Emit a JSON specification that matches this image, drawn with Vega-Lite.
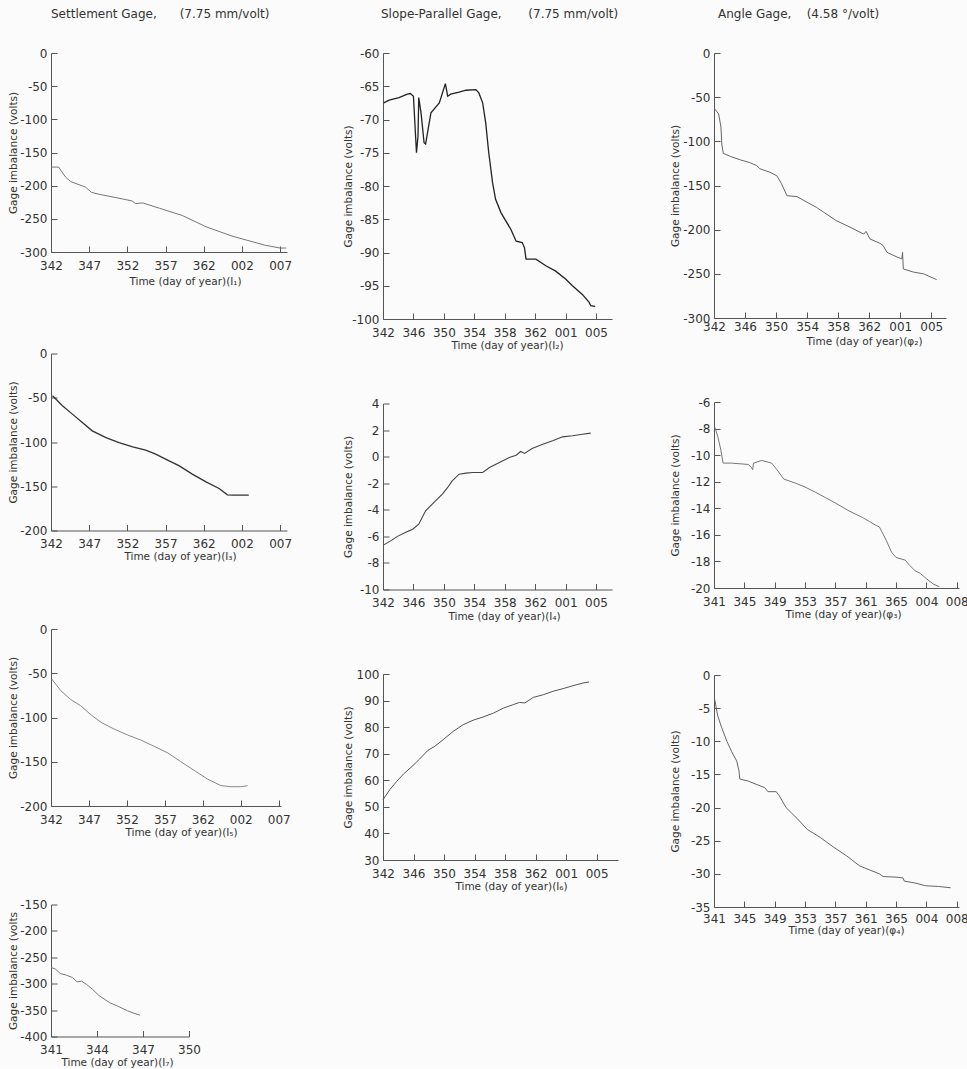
{
  "$schema": "https://vega.github.io/schema/vega-lite/v6.json",
  "background": "#fafbfa",
  "padding": {"left": 7, "top": 8, "right": 0, "bottom": 0},
  "spacing": 51,
  "columns": 3,
  "align": "none",
  "config": {
    "font": "DejaVu Sans",
    "view": {"stroke": null},
    "axis": {"grid": false, "domainColor": "#555", "tickColor": "#555", "labelColor": "#333", "titleColor": "#333", "labelFontSize": 12, "titleFontSize": 10.5, "titleFontWeight": "normal", "tickSize": -6, "labelPadding": 10, "labelFlush": false, "labelOverlap": false, "domainWidth": 1, "tickWidth": 1},
    "axisX": {"labelPadding": 14},
    "axisY": {"titlePadding": 0},
    "title": {"fontSize": 12, "fontWeight": "normal", "color": "#333", "anchor": "start"}
  },
  "datasets": {
    "I1": [{"d":342.0,"v":-172},{"d":343.0,"v":-172},{"d":343.9,"v":-187},{"d":344.6,"v":-194},{"d":346.5,"v":-202},{"d":347.3,"v":-210},{"d":348.3,"v":-213},{"d":350.5,"v":-218},{"d":352.6,"v":-223},{"d":353.1,"v":-227},{"d":354.0,"v":-226},{"d":356.2,"v":-234},{"d":359.2,"v":-245},{"d":362.3,"v":-262},{"d":365.7,"v":-276},{"d":370.1,"v":-290},{"d":372.0,"v":-294},{"d":372.8,"v":-294}],
    "I3": [{"d":342.2,"v":-47.8},{"d":343.5,"v":-59},{"d":344.8,"v":-68.5},{"d":346.1,"v":-78},{"d":347.4,"v":-87.4},{"d":349.2,"v":-95},{"d":350.9,"v":-100.6},{"d":352.7,"v":-105.5},{"d":354.4,"v":-109.2},{"d":355.7,"v":-113.7},{"d":357.0,"v":-119.4},{"d":358.8,"v":-127},{"d":360.5,"v":-136.3},{"d":362.3,"v":-145},{"d":364.0,"v":-152.5},{"d":365.1,"v":-159.7},{"d":365.8,"v":-160},{"d":367.9,"v":-160}],
    "I5": [{"d":342.1,"v":-56.5},{"d":343.3,"v":-69.7},{"d":344.6,"v":-79.8},{"d":345.9,"v":-86.6},{"d":347.3,"v":-97.2},{"d":348.6,"v":-105.5},{"d":350.3,"v":-113},{"d":352.1,"v":-119.8},{"d":353.8,"v":-125.4},{"d":355.6,"v":-132.6},{"d":357.4,"v":-140.1},{"d":359.1,"v":-149.9},{"d":360.9,"v":-160},{"d":362.6,"v":-169.5},{"d":364.4,"v":-177},{"d":365.7,"v":-178.2},{"d":367.0,"v":-178.2},{"d":367.9,"v":-177}],
    "I7": [{"d":341.0,"v":-269.3},{"d":341.3,"v":-272.5},{"d":341.6,"v":-280.7},{"d":342.0,"v":-283.8},{"d":342.4,"v":-288.3},{"d":342.7,"v":-296.5},{"d":343.0,"v":-295.2},{"d":343.3,"v":-300.9},{"d":343.7,"v":-310.4},{"d":344.1,"v":-321.7},{"d":344.8,"v":-335.6},{"d":345.4,"v":-343.2},{"d":346.0,"v":-351.4},{"d":346.4,"v":-355.8},{"d":346.8,"v":-359.6}],
    "I2": [{"d":342.1,"v":-67.5},{"d":342.8,"v":-67.1},{"d":344.1,"v":-66.7},{"d":345.2,"v":-66.2},{"d":345.6,"v":-66.1},{"d":346.0,"v":-66.5},{"d":346.4,"v":-75.0},{"d":346.6,"v":-72.5},{"d":346.7,"v":-66.7},{"d":347.0,"v":-69.0},{"d":347.4,"v":-73.5},{"d":347.6,"v":-73.7},{"d":348.3,"v":-69.0},{"d":349.4,"v":-67.5},{"d":350.2,"v":-64.6},{"d":350.5,"v":-66.5},{"d":350.9,"v":-66.2},{"d":352.0,"v":-65.9},{"d":352.9,"v":-65.6},{"d":354.2,"v":-65.5},{"d":354.6,"v":-66.0},{"d":355.1,"v":-67.5},{"d":355.5,"v":-70.5},{"d":355.9,"v":-75.0},{"d":356.4,"v":-79.5},{"d":356.8,"v":-82.0},{"d":357.5,"v":-84.0},{"d":358.8,"v":-86.5},{"d":359.5,"v":-88.3},{"d":360.3,"v":-88.5},{"d":360.6,"v":-89.3},{"d":360.8,"v":-91.0},{"d":362.1,"v":-91.0},{"d":363.4,"v":-92.0},{"d":364.7,"v":-92.8},{"d":366.0,"v":-94.0},{"d":366.9,"v":-95.0},{"d":368.2,"v":-96.3},{"d":369.1,"v":-97.5},{"d":369.3,"v":-98.0},{"d":369.9,"v":-98.1}],
    "I4": [{"d":342.1,"v":-6.64},{"d":343.0,"v":-6.34},{"d":343.9,"v":-6.0},{"d":345.0,"v":-5.7},{"d":345.9,"v":-5.46},{"d":346.7,"v":-5.08},{"d":347.6,"v":-4.08},{"d":348.7,"v":-3.45},{"d":349.8,"v":-2.82},{"d":350.5,"v":-2.32},{"d":351.1,"v":-1.82},{"d":352.0,"v":-1.32},{"d":352.9,"v":-1.24},{"d":353.8,"v":-1.19},{"d":355.1,"v":-1.19},{"d":356.0,"v":-0.82},{"d":357.3,"v":-0.44},{"d":358.6,"v":-0.06},{"d":359.5,"v":0.11},{"d":360.1,"v":0.39},{"d":360.6,"v":0.24},{"d":361.6,"v":0.61},{"d":363.0,"v":0.94},{"d":364.3,"v":1.19},{"d":365.6,"v":1.49},{"d":366.9,"v":1.57},{"d":368.2,"v":1.69},{"d":369.3,"v":1.77}],
    "I6": [{"d":342.0,"v":52.7},{"d":342.9,"v":56.5},{"d":343.8,"v":59.6},{"d":344.7,"v":62.4},{"d":345.8,"v":65.2},{"d":346.8,"v":68.0},{"d":347.9,"v":71.3},{"d":348.8,"v":72.8},{"d":349.9,"v":75.3},{"d":351.2,"v":78.4},{"d":352.5,"v":80.9},{"d":353.8,"v":82.6},{"d":355.1,"v":83.8},{"d":356.5,"v":85.3},{"d":357.8,"v":87.2},{"d":359.1,"v":88.5},{"d":359.9,"v":89.3},{"d":360.6,"v":89.1},{"d":361.7,"v":91.2},{"d":363.0,"v":92.2},{"d":364.3,"v":93.5},{"d":365.6,"v":94.5},{"d":366.9,"v":95.6},{"d":368.2,"v":96.6},{"d":369.0,"v":97.0}],
    "P2": [{"d":342.1,"v":-63.4},{"d":342.6,"v":-69},{"d":342.9,"v":-84},{"d":343.0,"v":-103},{"d":343.2,"v":-113.6},{"d":344.1,"v":-117},{"d":345.4,"v":-121},{"d":346.6,"v":-124},{"d":347.5,"v":-127.5},{"d":347.9,"v":-131},{"d":349.2,"v":-135},{"d":350.1,"v":-139},{"d":350.7,"v":-148},{"d":351.4,"v":-161.5},{"d":352.7,"v":-162.6},{"d":354.0,"v":-169},{"d":355.2,"v":-174.7},{"d":356.1,"v":-180},{"d":357.8,"v":-190},{"d":359.5,"v":-197},{"d":361.3,"v":-205},{"d":361.6,"v":-202},{"d":362.1,"v":-210.5},{"d":363.4,"v":-215.5},{"d":363.8,"v":-218},{"d":364.3,"v":-225.7},{"d":365.6,"v":-231},{"d":366.2,"v":-233},{"d":366.3,"v":-225.7},{"d":366.4,"v":-244.5},{"d":367.7,"v":-248},{"d":369.0,"v":-250},{"d":370.7,"v":-256.6}],
    "P3": [{"d":341.1,"v":-7.88},{"d":341.5,"v":-8.6},{"d":341.9,"v":-9.6},{"d":342.2,"v":-10.6},{"d":343.3,"v":-10.6},{"d":345.5,"v":-10.7},{"d":345.9,"v":-10.9},{"d":346.1,"v":-11.1},{"d":346.2,"v":-10.6},{"d":347.3,"v":-10.4},{"d":348.6,"v":-10.6},{"d":349.3,"v":-11.1},{"d":350.2,"v":-11.8},{"d":351.7,"v":-12.1},{"d":353.0,"v":-12.4},{"d":354.4,"v":-12.8},{"d":355.7,"v":-13.2},{"d":357.0,"v":-13.6},{"d":358.8,"v":-14.2},{"d":360.6,"v":-14.7},{"d":361.5,"v":-15.0},{"d":362.4,"v":-15.3},{"d":362.8,"v":-15.4},{"d":363.7,"v":-16.4},{"d":364.4,"v":-17.3},{"d":365.0,"v":-17.7},{"d":366.2,"v":-17.9},{"d":366.8,"v":-18.3},{"d":367.5,"v":-18.7},{"d":368.2,"v":-18.9},{"d":369.0,"v":-19.3},{"d":369.9,"v":-19.7},{"d":370.7,"v":-19.9}],
    "P4": [{"d":341.1,"v":-3.7},{"d":341.3,"v":-5.0},{"d":341.5,"v":-6.2},{"d":342.0,"v":-7.9},{"d":342.7,"v":-10.0},{"d":343.3,"v":-11.5},{"d":344.0,"v":-13.0},{"d":344.3,"v":-14.5},{"d":344.4,"v":-15.7},{"d":345.5,"v":-16.0},{"d":346.8,"v":-16.6},{"d":347.7,"v":-17.0},{"d":348.1,"v":-17.6},{"d":349.2,"v":-17.6},{"d":349.6,"v":-18.2},{"d":350.5,"v":-20.0},{"d":352.0,"v":-21.7},{"d":353.3,"v":-23.3},{"d":355.0,"v":-24.5},{"d":356.8,"v":-26.0},{"d":358.5,"v":-27.3},{"d":360.2,"v":-28.8},{"d":361.5,"v":-29.4},{"d":362.8,"v":-30.0},{"d":363.3,"v":-30.4},{"d":365.0,"v":-30.5},{"d":365.9,"v":-30.6},{"d":366.1,"v":-31.1},{"d":367.6,"v":-31.4},{"d":368.9,"v":-31.8},{"d":370.6,"v":-31.9},{"d":372.2,"v":-32.1}]
  },
  "concat": [
    {
      "title": {"text": "Settlement Gage,\u00a0\u00a0\u00a0\u00a0\u00a0\u00a0(7.75 mm/volt)", "dx": 43, "offset": 18},
      "spacing": 60.5,
      "vconcat": [
        {"width": 236, "height": 199, "data": {"name": "I1"},
         "layer": [
           {"mark": {"type": "line", "color": "#777", "strokeWidth": 1},
            "encoding": {
              "x": {"field": "d", "type": "quantitative", "scale": {"domain": [342, 372.9], "nice": false, "zero": false}, "axis": {"values": [342,347,352,357,362,367,372], "labelExpr": "datum.value > 365 ? '00' + (datum.value - 365) : '' + datum.value", "title": "Time (day of year)(I\u2081)", "titleX": 134, "titlePadding": 5}},
              "y": {"field": "v", "type": "quantitative", "scale": {"domain": [-300, 0], "nice": false, "zero": false}, "axis": {"values": [0,-50,-100,-150,-200,-250,-300], "labelExpr": "'' + datum.value", "title": "Gage imbalance (volts)", "minExtent": 33, "maxExtent": 33}}
            }},
           {"mark": {"type": "line", "strokeOpacity": 0},
            "encoding": {
              "x": {"field": "d", "type": "quantitative", "scale": {"domain": [342, 372.9], "nice": false, "zero": false}, "axis": {"orient": "top", "labels": false, "ticks": false, "domain": false, "title": "\u00a0", "titleFontSize": 2, "titlePadding": 12}},
              "y": {"field": "v", "type": "quantitative", "scale": {"domain": [-300, 0], "nice": false, "zero": false}, "axis": {"values": [0,-50,-100,-150,-200,-250,-300], "labelExpr": "'' + datum.value", "title": "Gage imbalance (volts)", "minExtent": 33, "maxExtent": 33}}
            }}
         ],
         "resolve": {"axis": {"x": "independent"}}},
        {"width": 236, "height": 177, "data": {"name": "I3"}, "mark": {"type": "line", "color": "#333", "strokeWidth": 1.3},
         "encoding": {
           "x": {"field": "d", "type": "quantitative", "scale": {"domain": [342, 372.9], "nice": false, "zero": false}, "axis": {"values": [342,347,352,357,362,367,372], "labelExpr": "datum.value > 365 ? '00' + (datum.value - 365) : '' + datum.value", "title": "Time (day of year)(I\u2083)", "titleX": 129, "titlePadding": 2}},
           "y": {"field": "v", "type": "quantitative", "scale": {"domain": [-200, 0], "nice": false, "zero": false}, "axis": {"values": [0,-50,-100,-150,-200], "labelExpr": "'' + datum.value", "title": "Gage imbalance (volts)", "minExtent": 33, "maxExtent": 33}}
         }},
        {"width": 230, "height": 177, "data": {"name": "I5"}, "mark": {"type": "line", "color": "#888", "strokeWidth": 1},
         "encoding": {
           "x": {"field": "d", "type": "quantitative", "scale": {"domain": [342, 372.3], "nice": false, "zero": false}, "axis": {"values": [342,347,352,357,362,367,372], "labelExpr": "datum.value > 365 ? '00' + (datum.value - 365) : '' + datum.value", "title": "Time (day of year)(I\u2085)", "titleX": 130, "titlePadding": 2}},
           "y": {"field": "v", "type": "quantitative", "scale": {"domain": [-200, 0], "nice": false, "zero": false}, "axis": {"values": [0,-50,-100,-150,-200], "labelExpr": "'' + datum.value", "title": "Gage imbalance (volts)", "minExtent": 33, "maxExtent": 33}}
         }},
        {"width": 138, "height": 132, "data": {"name": "I7"}, "mark": {"type": "line", "color": "#777", "strokeWidth": 1},
         "encoding": {
           "x": {"field": "d", "type": "quantitative", "scale": {"domain": [341, 350], "nice": false, "zero": false}, "axis": {"values": [341,344,347,350], "labelExpr": "'' + datum.value", "title": "Time (day of year)(I\u2087)", "titleX": 66, "titlePadding": 2}},
           "y": {"field": "v", "type": "quantitative", "scale": {"domain": [-400, -150], "nice": false, "zero": false}, "axis": {"values": [-150,-200,-250,-300,-350,-400], "labelExpr": "'' + datum.value", "title": "Gage imbalance (volts", "minExtent": 33, "maxExtent": 33}}
         }}
      ]
    },
    {
      "title": {"text": "Slope-Parallel Gage,\u00a0\u00a0\u00a0\u00a0\u00a0\u00a0\u00a0(7.75 mm/volt)", "dx": 38, "offset": 15},
      "spacing": 46.5,
      "vconcat": [
        {"width": 229, "height": 266, "data": {"name": "I2"},
         "layer": [
           {"mark": {"type": "line", "color": "#222", "strokeWidth": 1.3},
            "encoding": {
              "x": {"field": "d", "type": "quantitative", "scale": {"domain": [342, 372.1], "nice": false, "zero": false}, "axis": {"values": [342,346,350,354,358,362,366,370], "labelExpr": "datum.value > 365 ? '00' + (datum.value - 365) : '' + datum.value", "title": "Time (day of year)(I\u2082)", "titleX": 124, "titlePadding": 2}},
              "y": {"field": "v", "type": "quantitative", "scale": {"domain": [-100, -60], "nice": false, "zero": false}, "axis": {"values": [-60,-65,-70,-75,-80,-85,-90,-95,-100], "labelExpr": "'' + datum.value", "title": "Gage imbalance (volts)", "minExtent": 30, "maxExtent": 30}}
            }},
           {"mark": {"type": "line", "strokeOpacity": 0},
            "encoding": {
              "x": {"field": "d", "type": "quantitative", "scale": {"domain": [342, 372.1], "nice": false, "zero": false}, "axis": {"orient": "top", "labels": false, "ticks": false, "domain": false, "title": "\u00a0", "titleFontSize": 2, "titlePadding": 15}},
              "y": {"field": "v", "type": "quantitative", "scale": {"domain": [-100, -60], "nice": false, "zero": false}, "axis": {"values": [-60,-65,-70,-75,-80,-85,-90,-95,-100], "labelExpr": "'' + datum.value", "title": "Gage imbalance (volts)", "minExtent": 30, "maxExtent": 30}}
            }}
         ],
         "resolve": {"axis": {"x": "independent"}}},
        {"width": 229, "height": 186, "data": {"name": "I4"}, "mark": {"type": "line", "color": "#444", "strokeWidth": 1.1},
         "encoding": {
           "x": {"field": "d", "type": "quantitative", "scale": {"domain": [342, 372.1], "nice": false, "zero": false}, "axis": {"values": [342,346,350,354,358,362,366,370], "labelExpr": "datum.value > 365 ? '00' + (datum.value - 365) : '' + datum.value", "title": "Time (day of year)(I\u2084)", "titleX": 121, "titlePadding": 2.5}},
           "y": {"field": "v", "type": "quantitative", "scale": {"domain": [-10, 4], "nice": false, "zero": false}, "axis": {"values": [4,2,0,-2,-4,-6,-8,-10], "labelExpr": "'' + datum.value", "title": "Gage imbalance (volts)", "minExtent": 30, "maxExtent": 30}}
         }},
        {"width": 235, "height": 186, "data": {"name": "I6"}, "mark": {"type": "line", "color": "#555", "strokeWidth": 1},
         "encoding": {
           "x": {"field": "d", "type": "quantitative", "scale": {"domain": [342, 372.8], "nice": false, "zero": false}, "axis": {"values": [342,346,350,354,358,362,366,370], "labelExpr": "datum.value > 365 ? '00' + (datum.value - 365) : '' + datum.value", "title": "Time (day of year)(I\u2086)", "titleX": 128, "titlePadding": 2}},
           "y": {"field": "v", "type": "quantitative", "scale": {"domain": [30, 100], "nice": false, "zero": false}, "axis": {"values": [100,90,80,70,60,50,40,30], "labelExpr": "'' + datum.value", "title": "Gage imbalance (volts)", "minExtent": 30, "maxExtent": 30}}
         }}
      ]
    },
    {
      "title": {"text": "Angle Gage,\u00a0\u00a0\u00a0\u00a0(4.58 \u00b0/volt)", "dx": 48, "offset": 13},
      "spacing": 49,
      "vconcat": [
        {"width": 232, "height": 265, "data": {"name": "P2"},
         "layer": [
           {"mark": {"type": "line", "color": "#666", "strokeWidth": 1},
            "encoding": {
              "x": {"field": "d", "type": "quantitative", "scale": {"domain": [342, 371.9], "nice": false, "zero": false}, "axis": {"values": [342,346,350,354,358,362,366,370], "labelExpr": "datum.value > 365 ? '00' + (datum.value - 365) : '' + datum.value", "title": "Time (day of year)(\u03c6\u2082)", "titleX": 150, "labelPadding": 9, "titlePadding": 4}},
              "y": {"field": "v", "type": "quantitative", "scale": {"domain": [-300, 0], "nice": false, "zero": false}, "axis": {"values": [0,-50,-100,-150,-200,-250,-300], "labelExpr": "'' + datum.value", "title": "Gage imbalance (volts)", "minExtent": 34, "maxExtent": 34}}
            }},
           {"mark": {"type": "line", "strokeOpacity": 0},
            "encoding": {
              "x": {"field": "d", "type": "quantitative", "scale": {"domain": [342, 371.9], "nice": false, "zero": false}, "axis": {"orient": "top", "labels": false, "ticks": false, "domain": false, "title": "\u00a0", "titleFontSize": 2, "titlePadding": 17}},
              "y": {"field": "v", "type": "quantitative", "scale": {"domain": [-300, 0], "nice": false, "zero": false}, "axis": {"values": [0,-50,-100,-150,-200,-250,-300], "labelExpr": "'' + datum.value", "title": "Gage imbalance (volts)", "minExtent": 34, "maxExtent": 34}}
            }}
         ],
         "resolve": {"axis": {"x": "independent"}}},
        {"width": 245, "height": 186, "data": {"name": "P3"}, "mark": {"type": "line", "color": "#777", "strokeWidth": 1},
         "encoding": {
           "x": {"field": "d", "type": "quantitative", "scale": {"domain": [341, 373.3], "nice": false, "zero": false}, "axis": {"values": [341,345,349,353,357,361,365,369,373], "labelExpr": "datum.value > 365 ? '00' + (datum.value - 365) : '' + datum.value", "title": "Time (day of year)(\u03c6\u2083)", "titleX": 129, "titlePadding": 2}},
           "y": {"field": "v", "type": "quantitative", "scale": {"domain": [-20, -6], "nice": false, "zero": false}, "axis": {"values": [-6,-8,-10,-12,-14,-16,-18,-20], "labelExpr": "'' + datum.value", "title": "Gage imbalance (volts)", "minExtent": 34, "maxExtent": 34}}
         }},
        {"width": 245, "height": 232, "data": {"name": "P4"}, "mark": {"type": "line", "color": "#666", "strokeWidth": 1},
         "encoding": {
           "x": {"field": "d", "type": "quantitative", "scale": {"domain": [341, 373.3], "nice": false, "zero": false}, "axis": {"values": [341,345,349,353,357,361,365,369,373], "labelExpr": "datum.value > 365 ? '00' + (datum.value - 365) : '' + datum.value", "title": "Time (day of year)(\u03c6\u2084)", "titleX": 132, "labelPadding": 12, "titlePadding": 1}},
           "y": {"field": "v", "type": "quantitative", "scale": {"domain": [-35, 0], "nice": false, "zero": false}, "axis": {"values": [0,-5,-10,-15,-20,-25,-30,-35], "labelExpr": "'' + datum.value", "title": "Gage imbalance (volts)", "minExtent": 34, "maxExtent": 34}}
         }}
      ]
    }
  ]
}
